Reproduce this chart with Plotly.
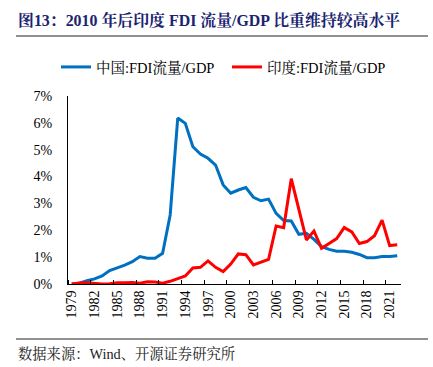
import plotly.graph_objects as go

years = list(range(1979, 2023))
china = [0.00, 0.03, 0.12, 0.19, 0.30, 0.50, 0.60, 0.70, 0.83, 1.02, 0.96, 0.96, 1.14,
         2.57, 6.18, 5.98, 5.11, 4.84, 4.68, 4.43, 3.69, 3.38, 3.50, 3.59, 3.23, 3.10,
         3.16, 2.63, 2.36, 2.35, 1.85, 1.89, 1.66, 1.39, 1.29, 1.22, 1.22, 1.18, 1.10,
         0.98, 0.98, 1.02, 1.02, 1.05]
india = [0.00, 0.04, 0.05, 0.03, 0.00, 0.01, 0.05, 0.05, 0.06, 0.03, 0.08, 0.07, 0.03,
         0.10, 0.20, 0.30, 0.60, 0.62, 0.86, 0.62, 0.46, 0.74, 1.12, 1.09, 0.71, 0.82,
         0.92, 2.16, 2.10, 3.92, 2.72, 1.64, 1.97, 1.33, 1.51, 1.69, 2.10, 1.94, 1.51,
         1.58, 1.80, 2.38, 1.43, 1.46]
series_names = ["中国:FDI流量/GDP", "印度:FDI流量/GDP"]
tick_years = list(range(1979, 2022, 3))
y_ticks = list(range(0, 8))

title_text = "图13：2010 年后印度 FDI 流量/GDP 比重维持较高水平"
source_text = "数据来源：Wind、开源证券研究所"

FONT = "Times New Roman, Liberation Serif, Noto Serif CJK SC, Noto Sans CJK SC, serif"

W, H = 433, 367
L, R, T, B = 68, 401, 96, 284


def px(x):
    return (x - L) / (R - L)


def py(y):
    return (B - y) / (B - T)


fig = go.Figure()
fig.add_trace(go.Scatter(x=years, y=china, mode="lines", name=series_names[0],
                         line=dict(color="#0070C0", width=3), legend="legend"))
fig.add_trace(go.Scatter(x=years, y=india, mode="lines", name=series_names[1],
                         line=dict(color="#FF0000", width=3), legend="legend2"))

leg_common = dict(orientation="h", xref="container", yref="container",
                  xanchor="left", yanchor="middle",
                  font=dict(size=14.5, color="#000", family=FONT),
                  bgcolor="rgba(0,0,0,0)", borderwidth=0)

fig.update_layout(
    width=W, height=H,
    margin=dict(l=L, r=W - R, t=T, b=H - B, pad=0, autoexpand=False),
    paper_bgcolor="white", plot_bgcolor="white",
    font=dict(family=FONT, size=14, color="#000"),
    showlegend=True,
    legend=dict(x=56 / W, y=1 - 67 / H, **leg_common),
    legend2=dict(x=227 / W, y=1 - 67 / H, **leg_common),
    xaxis=dict(range=[1978.5, 2022.5], tickmode="array", tickvals=tick_years,
               ticktext=[str(v) for v in tick_years], tickangle=-90,
               showline=True, linecolor="#000", linewidth=1, showgrid=False,
               zeroline=False, ticks="", automargin=False,
               minor=dict(tickmode="linear", tick0=1978.5, dtick=3, ticks="inside",
                          ticklen=4, tickcolor="#000", showgrid=False),
               tickfont=dict(size=14)),
    yaxis=dict(range=[0, 7], tickmode="array", tickvals=y_ticks,
               ticktext=[f"{v}%" for v in y_ticks],
               showline=True, linecolor="#000", linewidth=1, showgrid=False,
               zeroline=False, ticks="", ticklabelstandoff=12, automargin=False,
               tickfont=dict(size=14)),
    annotations=[
        dict(text=f"<b>{title_text}</b>", x=px(16), y=py(20), xref="paper", yref="paper",
             xanchor="left", yanchor="middle", showarrow=False,
             font=dict(size=15.9, color="#1A2470", family=FONT)),
        dict(text=source_text, x=px(16), y=py(353), xref="paper", yref="paper",
             xanchor="left", yanchor="middle", showarrow=False,
             font=dict(size=14.3, color="#222", family=FONT)),
    ],
    shapes=[
        dict(type="line", xref="paper", yref="paper", x0=px(16), x1=px(428),
             y0=py(36), y1=py(36), line=dict(color="#222", width=1)),
        dict(type="line", xref="paper", yref="paper", x0=px(16), x1=px(428),
             y0=py(339), y1=py(339), line=dict(color="#222", width=1)),
    ],
)

fig.write_html("out.html", config={"displayModeBar": False},
               post_script="document.body.style.margin='0px';document.body.style.padding='0px';")
